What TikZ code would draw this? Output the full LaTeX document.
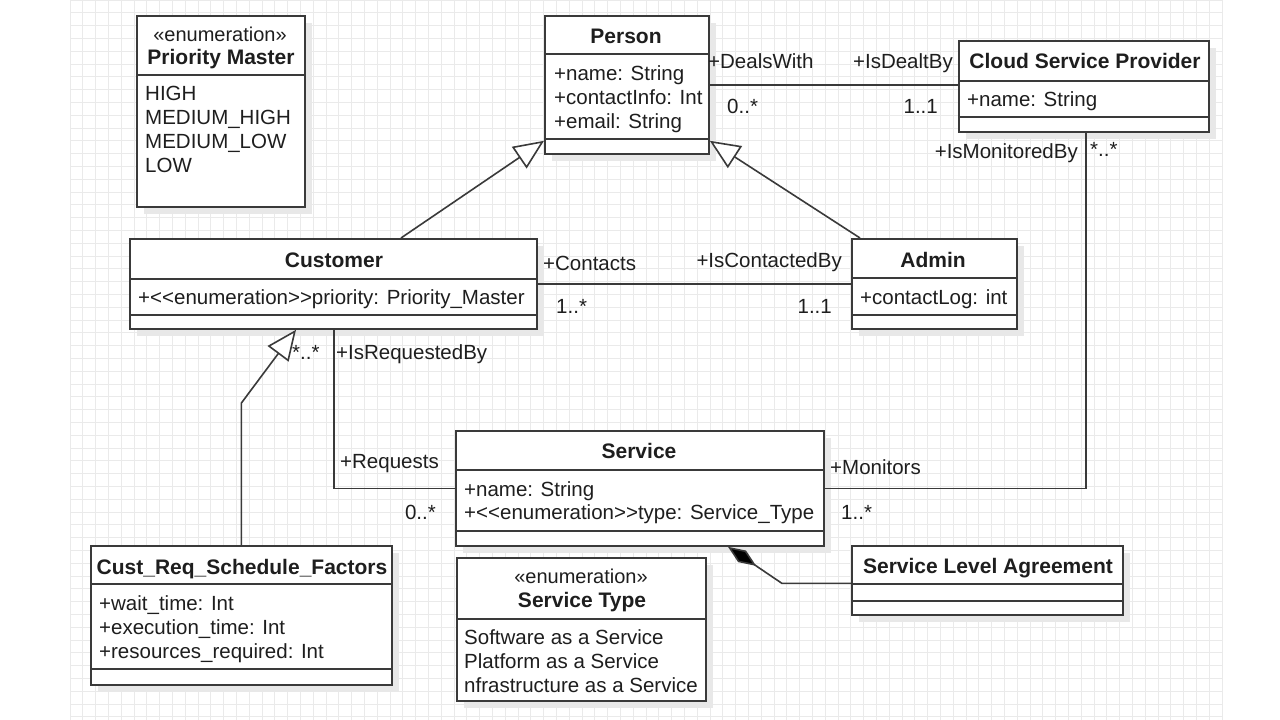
\documentclass[tikz,border=0pt]{standalone}
\usepackage{fontspec}
\setmainfont{Liberation Sans}
\usetikzlibrary{arrows.meta,shadows}
\definecolor{edge}{HTML}{3A3A3A}
\definecolor{gridc}{HTML}{EAEAEA}
\definecolor{txt}{HTML}{1E1E1E}
\begin{document}
\begin{tikzpicture}[x=1pt,y=-1pt,
  umlbox/.style={draw=edge, line width=1.8pt, fill=white, anchor=north west, inner sep=0pt,
     general shadow={fill=black!9, shadow xshift=7pt, shadow yshift=-7pt}},
  sep/.style={draw=edge, line width=1.8pt},
  fixh/.style={text height=16pt, text depth=1pt, inner sep=0pt, text=txt},
  ttl/.style={fixh, font=\fontsize{21}{25}\selectfont\bfseries},
  ster/.style={fixh, font=\fontsize{20}{24}\selectfont},
  attr/.style={fixh, font=\fontsize{20.5}{24}\selectfont, anchor=west},
  lbl/.style={fixh, font=\fontsize{20.5}{24}\selectfont},
  assoc/.style={draw=edge, line width=1.6pt},
  gen/.style={draw=edge, line width=1.6pt, -{Triangle[open, length=30pt, width=26pt, fill=white]}},
  comp/.style={draw=edge, line width=1.6pt, -{Diamond[length=34pt, width=14pt, fill=black]}}
]
\useasboundingbox (0,0) rectangle (1280,720);
\fill[white] (0,0) rectangle (1280,720);
% grid
\foreach \i in {0,...,90} \draw[gridc, line width=1pt] (70+\i*12.8,0) -- (70+\i*12.8,720);
\foreach \j in {0,...,56} \draw[gridc, line width=1pt] (70,\j*12.8) -- (1222,\j*12.8);

% ---------- boxes ----------
\node[umlbox, minimum width=168pt, minimum height=191pt] (prio) at (136,15) {};
\node[umlbox, minimum width=164pt, minimum height=138pt] (person) at (544,15) {};
\node[umlbox, minimum width=250pt, minimum height=91pt] (csp) at (958,40) {};
\node[umlbox, minimum width=407pt, minimum height=90pt] (customer) at (129,238) {};
\node[umlbox, minimum width=165pt, minimum height=90pt] (admin) at (851,238) {};
\node[umlbox, minimum width=368pt, minimum height=115pt] (service) at (455,430) {};
\node[umlbox, minimum width=249pt, minimum height=143pt] (stype) at (456,557) {};
\node[umlbox, minimum width=301pt, minimum height=139pt] (crsf) at (90,545) {};
\node[umlbox, minimum width=271pt, minimum height=69pt] (sla) at (851,545) {};

% compartment separators
\draw[sep] (prio.west |- 0,75) -- (prio.east |- 0,75);
\draw[sep] (person.west |- 0,54) -- (person.east |- 0,54);
\draw[sep] (person.west |- 0,139) -- (person.east |- 0,139);
\draw[sep] (csp.west |- 0,81) -- (csp.east |- 0,81);
\draw[sep] (csp.west |- 0,117) -- (csp.east |- 0,117);
\draw[sep] (customer.west |- 0,279) -- (customer.east |- 0,279);
\draw[sep] (customer.west |- 0,315) -- (customer.east |- 0,315);
\draw[sep] (admin.west |- 0,278) -- (admin.east |- 0,278);
\draw[sep] (admin.west |- 0,315) -- (admin.east |- 0,315);
\draw[sep] (service.west |- 0,470) -- (service.east |- 0,470);
\draw[sep] (service.west |- 0,531) -- (service.east |- 0,531);
\draw[sep] (stype.west |- 0,619) -- (stype.east |- 0,619);
\draw[sep] (crsf.west |- 0,584) -- (crsf.east |- 0,584);
\draw[sep] (crsf.west |- 0,669) -- (crsf.east |- 0,669);
\draw[sep] (sla.west |- 0,584) -- (sla.east |- 0,584);
\draw[sep] (sla.west |- 0,601) -- (sla.east |- 0,601);

% ---------- texts ----------
\node[ster] (prioS) at (220,34) {«enumeration»};
\node[ttl] (prioT) at (221,57) {Priority Master};
\node[attr] (p1) at (145,93) {HIGH};
\node[attr] (p2) at (145,117) {MEDIUM\_HIGH};
\node[attr] (p3) at (145,141) {MEDIUM\_LOW};
\node[attr] (p4) at (145,165) {LOW};

\node[ttl] (personT) at (626,36) {Person};
\node[attr] (pe1) at (554,73) {+name: String};
\node[attr] (pe2) at (554,97) {+contactInfo: Int};
\node[attr] (pe3) at (554,121) {+email: String};

\node[ttl] (cspT) at (1085,61) {Cloud Service Provider};
\node[attr] (csp1) at (967,99) {+name: String};

\node[ttl] (custT) at (334,260) {Customer};
\node[attr] (cu1) at (138,297) {+<{}<enumeration>{}>priority: Priority\_Master};

\node[ttl] (adminT) at (933,260) {Admin};
\node[attr] (ad1) at (860,297) {+contactLog: int};

\node[ttl] (servT) at (639,451) {Service};
\node[attr] (se1) at (464,489) {+name: String};
\node[attr] (se2) at (464,512) {+<{}<enumeration>{}>type: Service\_Type};

\node[ster] (stS) at (581,576) {«enumeration»};
\node[ttl] (stT) at (582,600) {Service Type};
\node[attr] (st1) at (464,637) {Software as a Service};
\node[attr] (st2) at (464,661) {Platform as a Service};
\node[attr] (st3) at (464,685) {nfrastructure as a Service};

\node[ttl] (crsfT) at (242,567) {Cust\_Req\_Schedule\_Factors};
\node[attr] (cr1) at (99,603) {+wait\_time: Int};
\node[attr] (cr2) at (99,627) {+execution\_time: Int};
\node[attr] (cr3) at (99,651) {+resources\_required: Int};

\node[ttl] (slaT) at (988,566) {Service Level Agreement};

% ---------- connectors ----------
\draw[assoc] (person.east) -- (person.east -| csp.west);
\draw[assoc] (customer.east) -- (admin.west);
\draw[assoc] ([xshift=205pt]customer.south west) |- (service.west);
\draw[assoc] ([xshift=128pt]csp.south west) |- (service.east);
\draw[gen] ([xshift=272pt]customer.north west) -- ([yshift=14pt]person.south west);
\draw[gen] ([xshift=9pt]admin.north west) -- ([yshift=14pt]person.south east);
\draw[gen] (crsf.north) -- ++(0,-142) -- ([xshift=167pt]customer.south west);
\draw[comp] ([yshift=-3pt]sla.west) -- ++(-69,0) -- ([xshift=273pt]service.south west);

% ---------- association labels ----------
\node[lbl, anchor=west] (l1) at (708,61) {+DealsWith};
\node[lbl, anchor=west] (l2) at (727,106) {0..*};
\node[lbl, anchor=east] (l3) at (953,61) {+IsDealtBy};
\node[lbl, anchor=east] (l4) at (938,106) {1..1};
\node[lbl, anchor=west] (l5) at (543,263) {+Contacts};
\node[lbl, anchor=west] (l6) at (556,306) {1..*};
\node[lbl, anchor=east] (l7) at (842,260) {+IsContactedBy};
\node[lbl, anchor=east] (l8) at (832,306) {1..1};
\node[lbl, anchor=east] (l9) at (1078,151) {+IsMonitoredBy};
\node[lbl, anchor=west] (l10) at (1090,149) {*..*};
\node[lbl, anchor=west] (l11) at (830,467) {+Monitors};
\node[lbl, anchor=west] (l12) at (841,512) {1..*};
\node[lbl, anchor=west] (l13) at (292,352) {*..*};
\node[lbl, anchor=west] (l14) at (336,352) {+IsRequestedBy};
\node[lbl, anchor=west] (l15) at (340,461) {+Requests};
\node[lbl, anchor=east] (l16) at (436,512) {0..*};
\end{tikzpicture}
\end{document}
